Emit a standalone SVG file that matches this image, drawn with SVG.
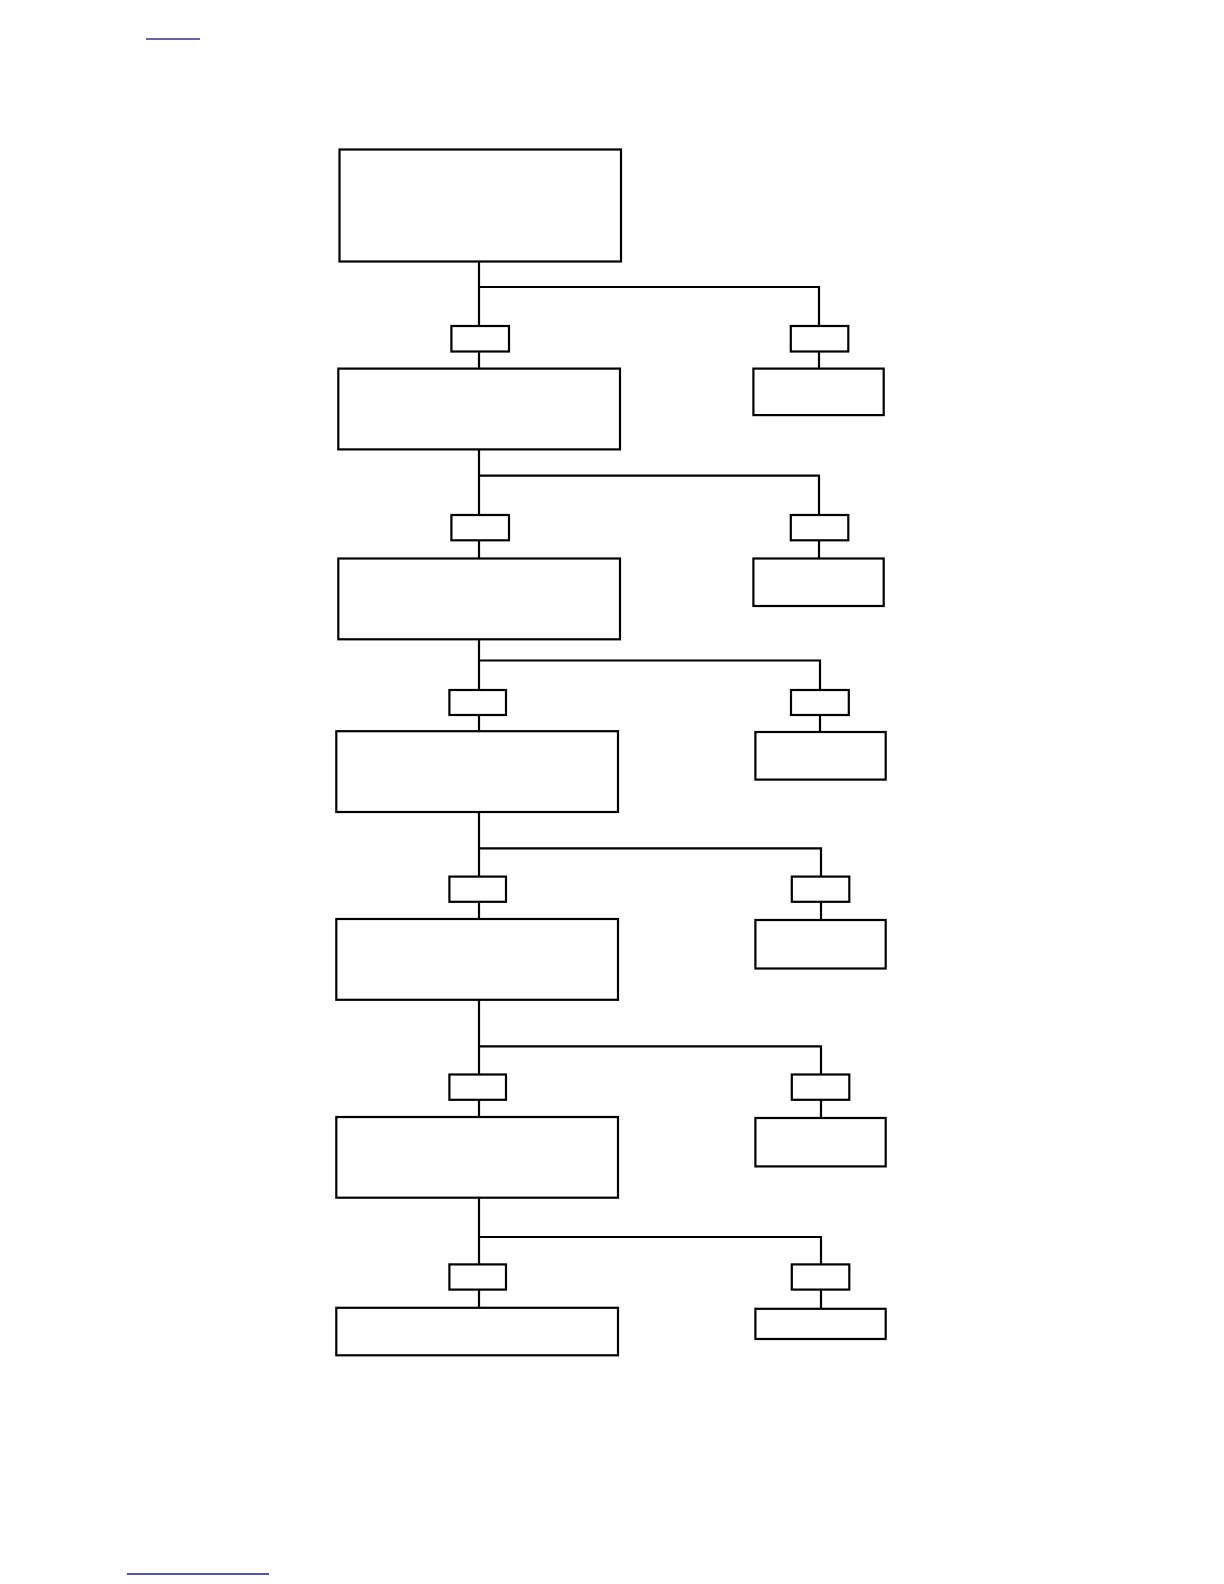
<svg xmlns="http://www.w3.org/2000/svg" width="1224" height="1584" viewBox="0 0 1224 1584">
<style>
.n{fill:#fff;stroke:#000;stroke-width:2.2}
.c{fill:none;stroke:#000;stroke-width:2.2}
.lk{stroke-width:1.6}
</style>
<rect width="1224" height="1584" fill="#fff"/>
<line class="lk" x1="146" y1="39" x2="200" y2="39" stroke="#3a2f8c"/>
<line class="lk" x1="127" y1="1574" x2="269" y2="1574" stroke="#1a1a8a"/>
<g id="connectors">
<path class="c" d="M479,261.5V326M479,351.5V368.6M479,287H819V326M819,351.5V368.6"/>
<path class="c" d="M479,449.4V515M479,540.3V558.5M479,475.7H819V515M819,540.3V558.5"/>
<path class="c" d="M479,639.3V690M479,715V731.2M479,660.5H820V690M820,715V732"/>
<path class="c" d="M479,812V876.6M479,901.8V919M479,848.3H821V876.6M821,901.8V920"/>
<path class="c" d="M479,999.8V1074.5M479,1099.8V1117M479,1046.3H821V1074.5M821,1099.8V1118"/>
<path class="c" d="M479,1197.7V1264.4M479,1289.6V1307.8M479,1237H821V1264.4M821,1289.6V1308.8"/>
</g>
<g id="main1"><rect class="n" x="339.5" y="149.5" width="281.5" height="112"/></g>
<g id="l1"><rect class="n" x="451.4" y="326" width="57.6" height="25.5"/></g>
<g id="r1"><rect class="n" x="790.8" y="326" width="57.5" height="25.5"/></g>
<g id="main2"><rect class="n" x="338.3" y="368.6" width="281.7" height="80.8"/></g>
<g id="side1"><rect class="n" x="753.4" y="368.6" width="130.3" height="46.5"/></g>
<g id="l2"><rect class="n" x="451.4" y="515" width="57.6" height="25.3"/></g>
<g id="r2"><rect class="n" x="790.8" y="515" width="57.5" height="25.3"/></g>
<g id="main3"><rect class="n" x="338.3" y="558.5" width="281.7" height="80.8"/></g>
<g id="side2"><rect class="n" x="753.4" y="558.5" width="130.3" height="47.5"/></g>
<g id="l3"><rect class="n" x="449.4" y="690" width="56.6" height="25"/></g>
<g id="r3"><rect class="n" x="791" y="690" width="57.8" height="25"/></g>
<g id="main4"><rect class="n" x="336.3" y="731.2" width="281.7" height="80.8"/></g>
<g id="side3"><rect class="n" x="755.4" y="732" width="130.3" height="47.6"/></g>
<g id="l4"><rect class="n" x="449.4" y="876.6" width="56.6" height="25.2"/></g>
<g id="r4"><rect class="n" x="791.8" y="876.6" width="57.5" height="25.2"/></g>
<g id="main5"><rect class="n" x="336.3" y="919" width="281.7" height="80.8"/></g>
<g id="side4"><rect class="n" x="755.4" y="920" width="130.3" height="48.5"/></g>
<g id="l5"><rect class="n" x="449.4" y="1074.5" width="56.6" height="25.3"/></g>
<g id="r5"><rect class="n" x="791.8" y="1074.5" width="57.5" height="25.3"/></g>
<g id="main6"><rect class="n" x="336.3" y="1117" width="281.7" height="80.7"/></g>
<g id="side5"><rect class="n" x="755.4" y="1118" width="130.3" height="48.4"/></g>
<g id="l6"><rect class="n" x="449.4" y="1264.4" width="56.6" height="25.2"/></g>
<g id="r6"><rect class="n" x="791.8" y="1264.4" width="57.5" height="25.2"/></g>
<g id="main7"><rect class="n" x="336.3" y="1307.8" width="281.7" height="47.5"/></g>
<g id="side6"><rect class="n" x="755.4" y="1308.8" width="130.3" height="30.2"/></g>
</svg>
